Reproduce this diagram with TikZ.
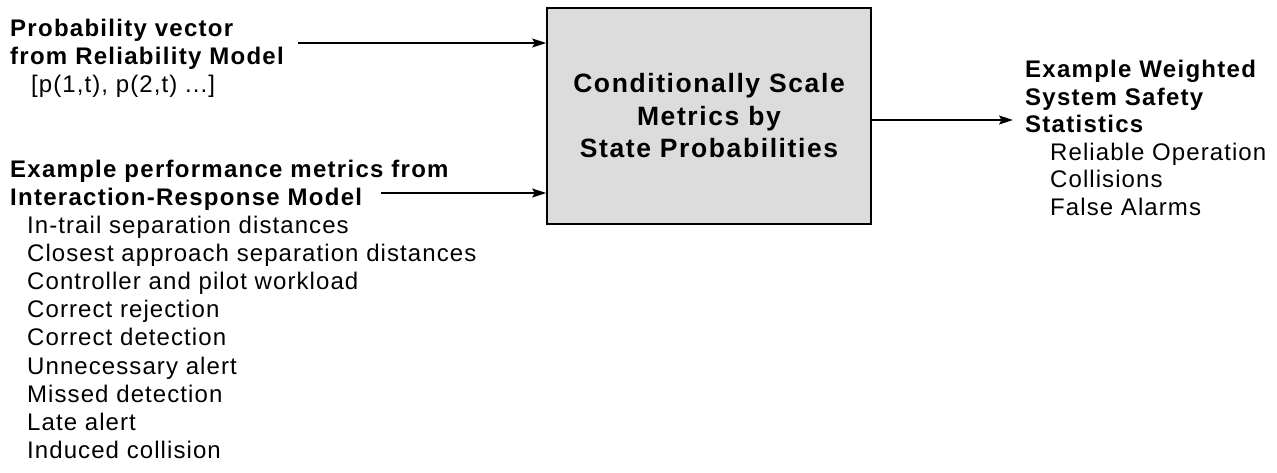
\documentclass[tikz,border=0pt]{standalone}
\usepackage{fontspec}
\setmainfont{Liberation Sans}[LetterSpace=4.5]
\usetikzlibrary{arrows.meta}
\definecolor{boxgray}{RGB}{220,220,220}

\begin{document}
\begin{tikzpicture}[x=1pt,y=-1pt,
  lbl/.style={anchor=base west, inner sep=0pt, font=\fontsize{24}{28}\selectfont},
  head/.style={anchor=base west, inner sep=0pt,
    font=\fontsize{24}{28}\selectfont\bfseries\addfontfeatures{LetterSpace=5.3}},
  flow/.style={draw=black, line width=1.4pt, -{Stealth[length=14pt,width=9pt,inset=2.5pt]}},
  procbox/.style={draw=black, line width=1.6pt, fill=boxgray, minimum width=324pt,
    minimum height=216pt, inner sep=0pt, align=center,
    font=\fontsize{26.5}{32.5}\selectfont\bfseries\addfontfeatures{LetterSpace=6}}]
\useasboundingbox (0,0) rectangle (1277,472);

% central process block
\node[procbox] (proc) at (709,116) {Conditionally Scale\\Metrics by\\State Probabilities};

% input 1: reliability model
\node[head] (rel1) at (10,36) {Probability vector};
\node[head] (rel2) at (10,64) {from Reliability Model};
\node[lbl]  (rel3) at (31,92) {[p(1,t), p(2,t) ...]};

% input 2: interaction-response model
\node[head] (irm1) at (10,177) {Example performance metrics from};
\node[head] (irm2) at (10,205) {Interaction-Response Model};
\foreach \t [count=\i from 0] in {In-trail separation distances,
    Closest approach separation distances,
    Controller and pilot workload,
    Correct rejection,
    Correct detection,
    Unnecessary alert,
    Missed detection,
    Late alert,
    Induced collision}
  \node[lbl] (met\i) at (27,233+28.2*\i) {\t};

% output: weighted statistics
\node[head] (out1) at (1025,77)  {Example Weighted};
\node[head] (out2) at (1025,105) {System Safety};
\node[head] (out3) at (1025,132) {Statistics};
\node[lbl]  (out4) at (1050,160) {Reliable Operation};
\node[lbl]  (out5) at (1050,187) {Collisions};
\node[lbl]  (out6) at (1050,215) {False Alarms};

% connectors
\coordinate (relTail) at (298,43);
\coordinate (irmTail) at (381,193);
\coordinate (outTip)  at (1013,120);
\draw[flow] (relTail) -- (relTail -| proc.west);
\draw[flow] (irmTail) -- (irmTail -| proc.west);
\draw[flow] (proc.east |- outTip) -- (outTip);
\end{tikzpicture}
\end{document}
